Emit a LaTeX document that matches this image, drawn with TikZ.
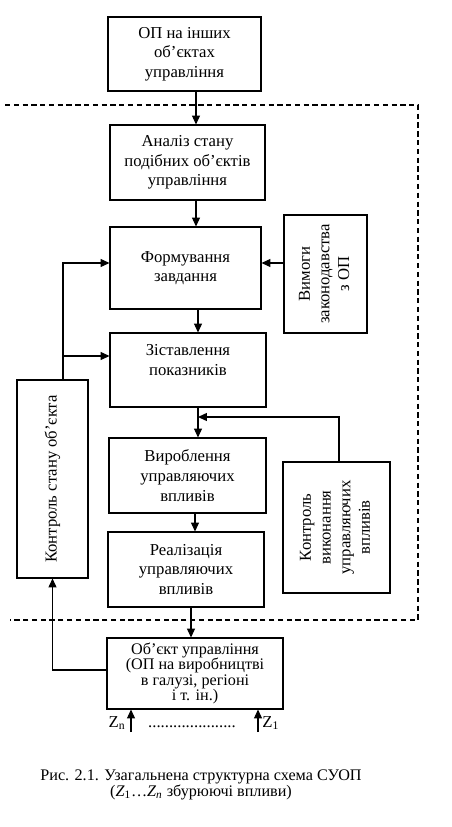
\documentclass[tikz,border=0pt]{standalone}
\usepackage{fontspec}
\setmainfont{Liberation Serif}
\usetikzlibrary{arrows.meta}
\begin{document}
\begin{tikzpicture}[x=0.02cm,y=-0.02cm,
  box/.style={draw, line width=0.6pt, align=center, inner sep=0pt,
    font=\fontsize{9.5}{11.2}\selectfont},
  conn/.style={line width=0.6pt},
  arr/.style={line width=0.6pt, -{Triangle[length=5pt,width=4.5pt]}},
  lbl/.style={font=\fontsize{9.5}{11.2}\selectfont, inner sep=0pt},
  zone/.style={line width=0.6pt, dash pattern=on 3pt off 2pt}]
\useasboundingbox (0,0) rectangle (452,827);
% boxes
\node[box, minimum width=3.06cm, minimum height=1.48cm] (b1) at (184.5,54) {ОП на інших\\об’єктах\\управління};
\node[box, minimum width=3.10cm, minimum height=1.50cm] (b2) at (187.5,162.5) {Аналіз стану\\подібних об’єктів\\управління};
\node[box, minimum width=3.02cm, minimum height=1.64cm] (b3) at (185.5,268) {Формування\\завдання};
\node[box, minimum width=1.66cm, minimum height=2.36cm] (vim) at (325.5,274)
  {\rotatebox{90}{\begin{tabular}{@{}c@{}}Вимоги\\законодавства\\з ОП\end{tabular}}};
\node[box, minimum width=3.12cm, minimum height=1.48cm] (b4) at (188,370) {Зіставлення\\показників\\\phantom{x}};
\node[box, minimum width=1.42cm, minimum height=3.96cm] (ks) at (52.5,479)
  {\rotatebox{90}{Контроль стану об’єкта}};
\node[box, minimum width=3.14cm, minimum height=1.50cm] (b5) at (187.5,475.5) {Вироблення\\управляючих\\впливів};
\node[box, minimum width=2.14cm, minimum height=2.62cm] (kv) at (336.5,527.5)
  {\rotatebox{90}{\begin{tabular}{@{}c@{}}Контроль\\виконання\\управляючих\\впливів\end{tabular}}};
\node[box, minimum width=3.12cm, minimum height=1.50cm] (b6) at (186,569.5) {Реалізація\\управляючих\\впливів};
\node[box, minimum width=3.52cm, minimum height=1.42cm, font=\fontsize{9.2}{8.7}\selectfont] (obj) at (195,673.5) {Об’єкт управління\\(ОП на виробництві\\в галузі, регіоні\\і т. ін.)};
% dashed zone
\coordinate (zTL) at (5,105);
\coordinate (zTR) at (418,105);
\coordinate (zBR) at (418,620);
\coordinate (zBL) at (10,620);
\draw[zone] (zTL) -- (zTR) -- (zBR) -- (zBL);
% helper coordinates
\coordinate (x196) at (196,0);
\coordinate (x198) at (198,0);
\coordinate (x195) at (195,0);
\coordinate (x191) at (191,0);
\coordinate (l63) at (63,0);
\coordinate (y263) at (0,263);
\coordinate (j356) at (63,356);
\coordinate (y670) at (0,670);
\coordinate (x339) at (339,0);
\coordinate (fb) at (198,417);
\coordinate (xz1) at (131,0);
\coordinate (xz2) at (258,0);
\coordinate (zs1) at (131,732);
\coordinate (zs2) at (258,732);
% main chain
\draw[arr] (b1.south -| x196) -- (b2.north -| x196);
\draw[arr] (b2.south -| x196) -- (b3.north -| x196);
\draw[arr] (b3.south -| x198) -- (b4.north -| x198);
\draw[arr] (b4.south -| x198) -- (b5.north -| x198);
\draw[arr] (b5.south -| x195) -- (b6.north -| x195);
\draw[arr] (b6.south -| x191) -- (obj.north -| x191);
% side inputs
\draw[arr] (vim.west |- y263) -- (b3.east |- y263);
\draw[arr] (ks.north -| l63) |- (b3.west |- y263);
\draw[arr] (j356) -- (b4.west |- j356);
\draw[arr] (obj.west |- y670) -| (ks.south);
\draw[arr] (kv.north -| x339) |- (fb);
% disturbances
\draw[arr] (zs1) -- (obj.south -| xz1);
\draw[arr] (zs2) -- (obj.south -| xz2);
\node[lbl, anchor=east] (zn) at (126,723) {Z\textsubscript{n}};
\node[lbl, anchor=west] (z1) at (262,723) {Z\textsubscript{1}};
\node[lbl] (dots) at (192,727) {.....................};
% caption
\node[lbl, align=center, font=\fontsize{9.2}{9.4}\selectfont] (cap) at (201,785)
  {Рис. 2.1. Узагальнена структурна схема СУОП\\({\itshape Z}\textsubscript{1}…{\itshape Z\textsubscript{n}} збурюючі впливи)};
\end{tikzpicture}
\end{document}
